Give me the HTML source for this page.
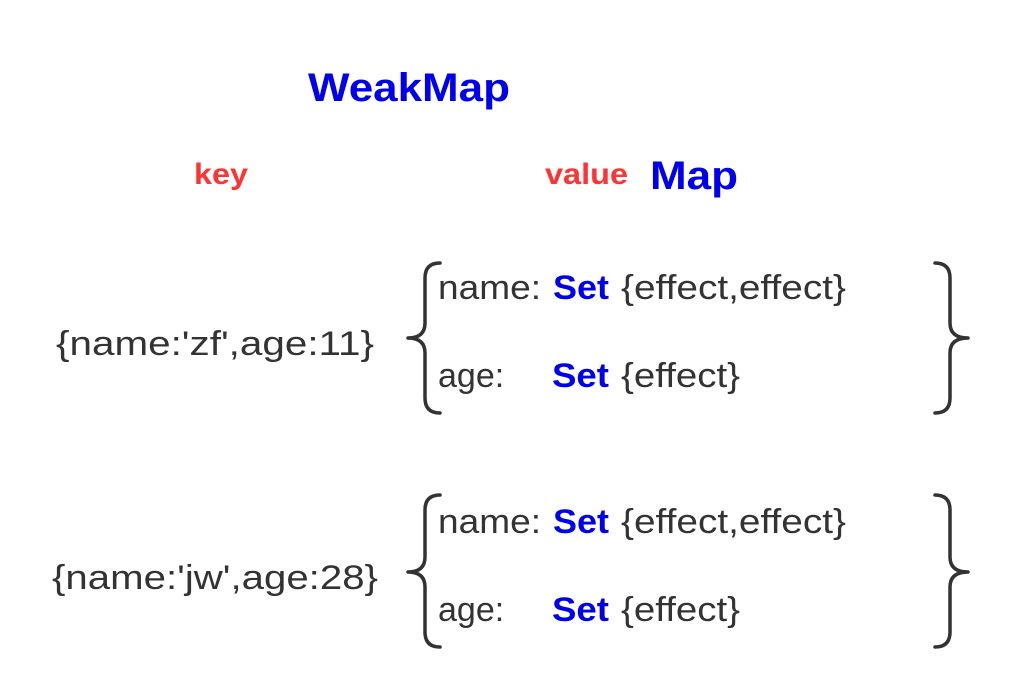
<!DOCTYPE html>
<html><head><meta charset="utf-8"><style>
html,body{margin:0;padding:0;background:#fff;}
svg{display:block;}
text{font-family:"Liberation Sans",sans-serif;}
.t{font-size:34px;fill:#333;}
.b{font-weight:bold;fill:#0000ee;}
.s{font-size:34px;}
.r{font-weight:bold;fill:#ff3333;font-size:30px;}
path{fill:none;stroke:#333;stroke-width:3.5;stroke-linecap:round;stroke-linejoin:round;}
</style></head><body>
<svg width="1020" height="699" viewBox="0 0 1020 699" xmlns="http://www.w3.org/2000/svg">
<text x="308" y="101" class="b" style="font-size:40px" textLength="202" lengthAdjust="spacingAndGlyphs">WeakMap</text>
<text x="194" y="184" class="r" textLength="54" lengthAdjust="spacingAndGlyphs">key</text>
<text x="545" y="184" class="r" textLength="83" lengthAdjust="spacingAndGlyphs">value</text>
<text x="650" y="189" class="b" style="font-size:40px" textLength="88" lengthAdjust="spacingAndGlyphs">Map</text>

<text x="56" y="355" class="t" textLength="318" lengthAdjust="spacingAndGlyphs">{name:'zf',age:11}</text>
<path d="M440,263 Q425,263 425,278 L425,323 Q425,338 408,338 Q425,338 425,353 L425,398 Q425,413 440,413"/>
<path d="M935,263 Q950,263 950,278 L950,323 Q950,338 968,338 Q950,338 950,353 L950,398 Q950,413 935,413"/>
<text x="438" y="299" class="t" textLength="103" lengthAdjust="spacingAndGlyphs">name:</text>
<text x="553" y="299" class="b s" textLength="56" lengthAdjust="spacingAndGlyphs">Set</text>
<text x="621" y="299" class="t" textLength="225" lengthAdjust="spacingAndGlyphs">{effect,effect}</text>
<text x="438" y="387" class="t">age:</text>
<text x="552" y="387" class="b s" textLength="57" lengthAdjust="spacingAndGlyphs">Set</text>
<text x="621" y="387" class="t" textLength="119" lengthAdjust="spacingAndGlyphs">{effect}</text>

<text x="52" y="589" class="t" textLength="326" lengthAdjust="spacingAndGlyphs">{name:'jw',age:28}</text>
<path d="M440,495 Q425,495 425,510 L425,557 Q425,572 408,572 Q425,572 425,587 L425,632 Q425,647 440,647"/>
<path d="M935,495 Q950,495 950,510 L950,557 Q950,572 968,572 Q950,572 950,587 L950,632 Q950,647 935,647"/>
<text x="438" y="533" class="t" textLength="103" lengthAdjust="spacingAndGlyphs">name:</text>
<text x="553" y="533" class="b s" textLength="56" lengthAdjust="spacingAndGlyphs">Set</text>
<text x="621" y="533" class="t" textLength="225" lengthAdjust="spacingAndGlyphs">{effect,effect}</text>
<text x="438" y="621" class="t">age:</text>
<text x="552" y="621" class="b s" textLength="57" lengthAdjust="spacingAndGlyphs">Set</text>
<text x="621" y="621" class="t" textLength="119" lengthAdjust="spacingAndGlyphs">{effect}</text>
</svg>
</body></html>
